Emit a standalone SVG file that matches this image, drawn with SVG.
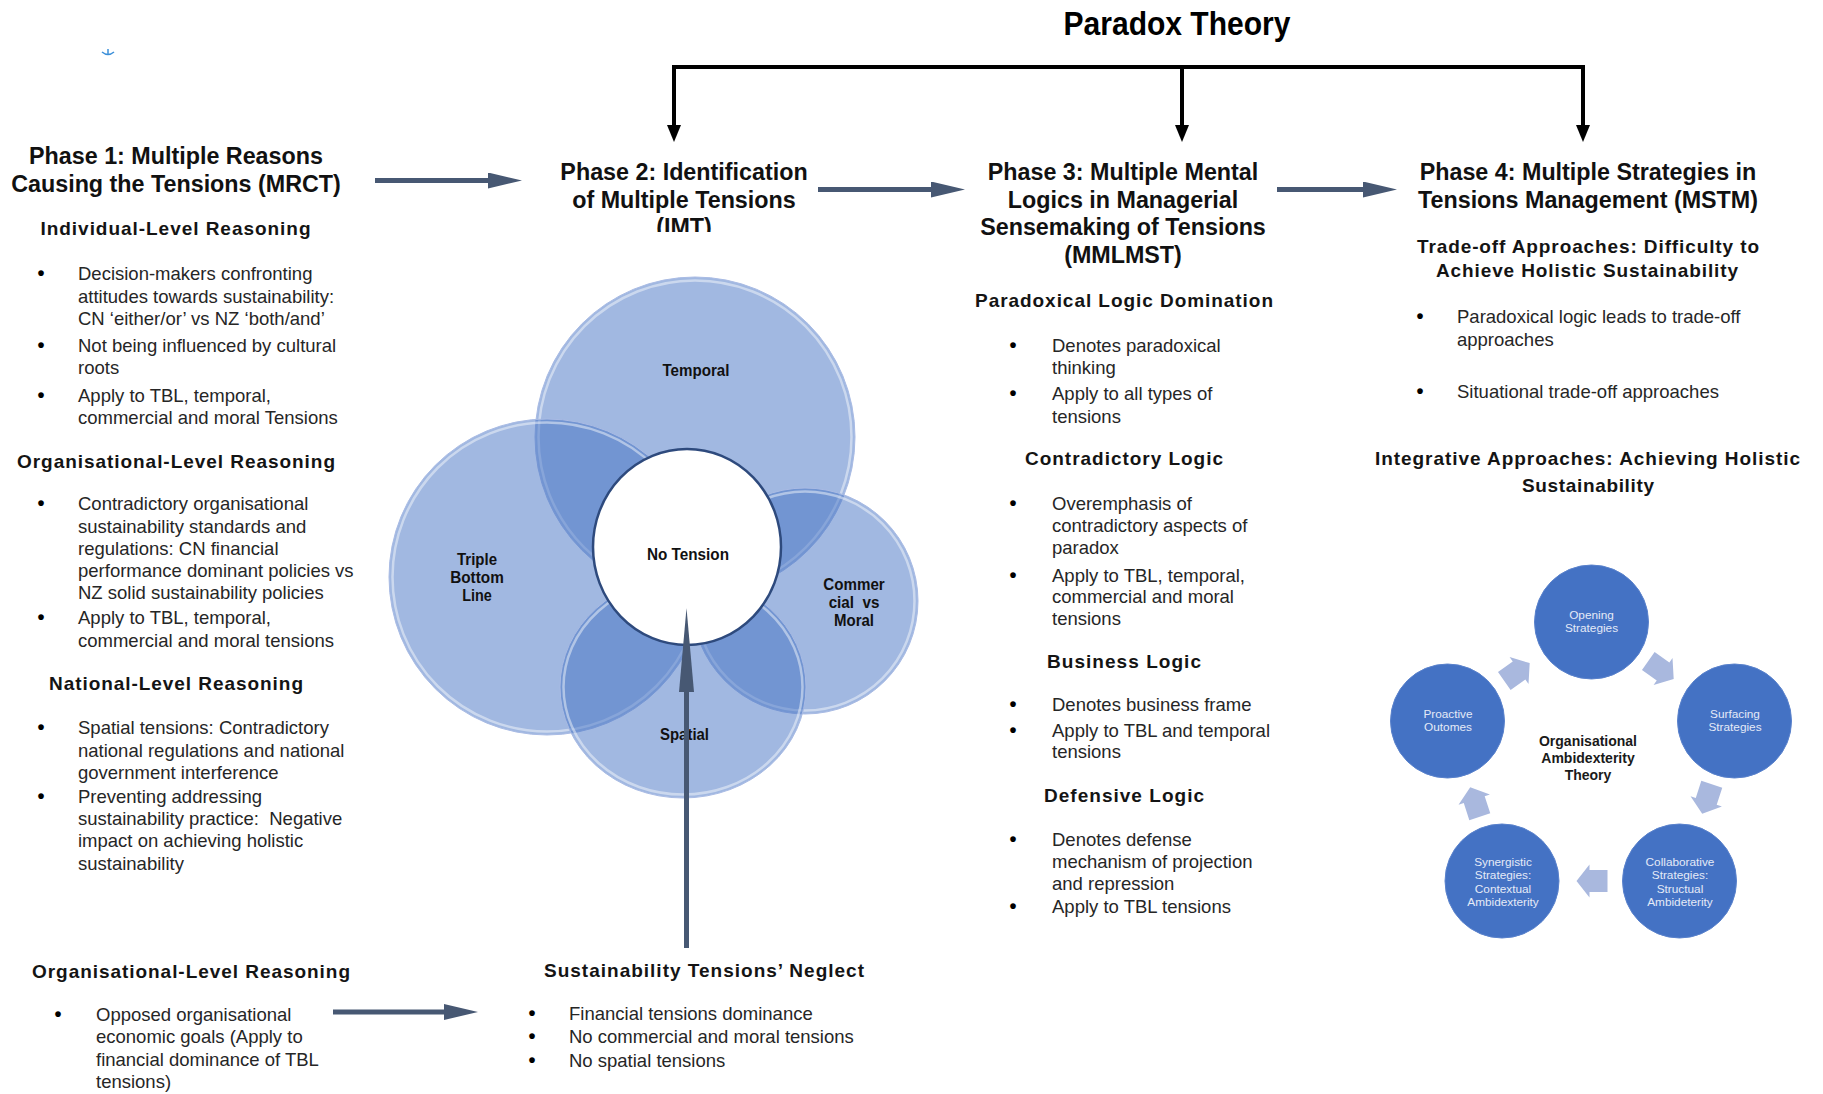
<svg xmlns="http://www.w3.org/2000/svg" width="1823" height="1094" viewBox="0 0 1823 1094">
<defs>
<style>
.ph{font-family:"Liberation Sans",Arial,sans-serif;font-weight:bold;font-size:23.3px;fill:#111;text-anchor:middle}
.tt{font-family:"Liberation Sans",Arial,sans-serif;font-weight:bold;font-size:33px;fill:#000;text-anchor:middle}
.hd{font-family:"Liberation Sans",Arial,sans-serif;font-weight:bold;font-size:19px;fill:#141414;text-anchor:middle}
.bd{font-family:"Liberation Sans",Arial,sans-serif;font-size:18.5px;fill:#262626}
.bu{font-family:"Liberation Sans",Arial,sans-serif;font-size:20px;font-weight:bold;fill:#000;text-anchor:middle}
.vl{font-family:"Liberation Sans",Arial,sans-serif;font-weight:bold;font-size:16.5px;fill:#111;text-anchor:middle}
.cy{font-family:"Liberation Sans",Arial,sans-serif;font-size:11.8px;fill:#e4eaf7;text-anchor:middle}
.ct{font-family:"Liberation Sans",Arial,sans-serif;font-weight:bold;font-size:14px;fill:#1a1a1a;text-anchor:middle}
.arr{stroke:#475873;stroke-width:5;fill:none}
.blk{stroke:#000;stroke-width:4;fill:none}
.venn{fill:#4472c4;fill-opacity:.5;stroke:#a9bbe4;stroke-width:1}
.rim{fill:none;stroke:#fff;stroke-opacity:.45;stroke-width:2.5}
.cc{fill:#4472c4;stroke:#5a82cc;stroke-width:1}
.ba{fill:#a9b8de}
</style>
<marker id="ah" markerUnits="userSpaceOnUse" viewBox="0 0 34 16" refX="0" refY="8" markerWidth="34" markerHeight="16" orient="auto">
<path d="M0,0 L34,8 L0,16 Z" fill="#475873"/>
</marker>
<marker id="ahl" markerUnits="userSpaceOnUse" viewBox="0 0 84 15" refX="0" refY="7.5" markerWidth="84" markerHeight="15" orient="auto">
<path d="M0,0 L84,7.5 L0,15 Z" fill="#475873"/>
</marker>
<marker id="ahb" markerUnits="userSpaceOnUse" viewBox="0 0 17 14" refX="0" refY="7" markerWidth="17" markerHeight="14" orient="auto">
<path d="M0,0 L17,7 L0,14 Z" fill="#000"/>
</marker>
<clipPath id="c2"><rect x="540" y="140" width="300" height="92"/></clipPath>
<path id="bar" d="M-15.5,-11 L2.5,-11 L2.5,-16.5 L15.5,0 L2.5,16.5 L2.5,11 L-15.5,11 Z"/>
</defs>
<rect width="1823" height="1094" fill="#fff"/>

<g id="mark" fill="none" stroke="#3b8fd9" stroke-width="1.5">
<path d="M102,52 Q108,57 114,52"/>
<path d="M108,49 L108,55"/>
</g>

<g id="title">
<text class="tt" x="1177" y="35" textLength="227" lengthAdjust="spacingAndGlyphs">Paradox Theory</text>
</g>

<g id="connectors">
<line class="blk" x1="672" y1="67" x2="1585" y2="67"/>
<line class="blk" x1="674" y1="67" x2="674" y2="125" marker-end="url(#ahb)"/>
<line class="blk" x1="1182" y1="67" x2="1182" y2="125" marker-end="url(#ahb)"/>
<line class="blk" x1="1583" y1="67" x2="1583" y2="125" marker-end="url(#ahb)"/>
<line class="arr" x1="375" y1="180.5" x2="488" y2="180.5" marker-end="url(#ah)"/>
<line class="arr" x1="818" y1="189.5" x2="931" y2="189.5" marker-end="url(#ah)"/>
<line class="arr" x1="1277" y1="189.5" x2="1363" y2="189.5" marker-end="url(#ah)"/>
<line class="arr" x1="333" y1="1012" x2="444" y2="1012" marker-end="url(#ah)"/>
</g>

<g id="phase1">
<text class="ph" x="176" y="164">Phase 1: Multiple Reasons</text>
<text class="ph" x="176" y="192">Causing the Tensions (MRCT)</text>
<text class="hd" x="175.5" y="235" textLength="270" lengthAdjust="spacing">Individual-Level Reasoning</text>
<text class="bu" x="41" y="280">•</text>
<text class="bd" x="78" y="280">Decision-makers confronting</text>
<text class="bd" x="78" y="302.7">attitudes towards sustainability:</text>
<text class="bd" x="78" y="325">CN ‘either/or’ vs NZ ‘both/and’</text>
<text class="bu" x="41" y="351.7">•</text>
<text class="bd" x="78" y="351.7">Not being influenced by cultural</text>
<text class="bd" x="78" y="374">roots</text>
<text class="bu" x="41" y="401.7">•</text>
<text class="bd" x="78" y="401.7">Apply to TBL, temporal,</text>
<text class="bd" x="78" y="424">commercial and moral Tensions</text>

<text class="hd" x="176" y="468" textLength="318" lengthAdjust="spacing">Organisational-Level Reasoning</text>
<text class="bu" x="41" y="510">•</text>
<text class="bd" x="78" y="510">Contradictory organisational</text>
<text class="bd" x="78" y="532.7">sustainability standards and</text>
<text class="bd" x="78" y="554.5">regulations: CN financial</text>
<text class="bd" x="78" y="576.7">performance dominant policies vs</text>
<text class="bd" x="78" y="599">NZ solid sustainability policies</text>
<text class="bu" x="41" y="624">•</text>
<text class="bd" x="78" y="624">Apply to TBL, temporal,</text>
<text class="bd" x="78" y="646.7">commercial and moral tensions</text>

<text class="hd" x="176" y="690" textLength="254" lengthAdjust="spacing">National-Level Reasoning</text>
<text class="bu" x="41" y="734">•</text>
<text class="bd" x="78" y="734">Spatial tensions: Contradictory</text>
<text class="bd" x="78" y="756.7">national regulations and national</text>
<text class="bd" x="78" y="779">government interference</text>
<text class="bu" x="41" y="802.7">•</text>
<text class="bd" x="78" y="802.7">Preventing addressing</text>
<text class="bd" x="78" y="825" xml:space="preserve">sustainability practice:  Negative</text>
<text class="bd" x="78" y="847.3">impact on achieving holistic</text>
<text class="bd" x="78" y="870">sustainability</text>
</g>

<g id="org-bottom">
<text class="hd" x="191" y="978" textLength="318" lengthAdjust="spacing">Organisational-Level Reasoning</text>
<text class="bu" x="58" y="1021">•</text>
<text class="bd" x="96" y="1021">Opposed organisational</text>
<text class="bd" x="96" y="1043">economic goals (Apply to</text>
<text class="bd" x="96" y="1065.5">financial dominance of TBL</text>
<text class="bd" x="96" y="1088">tensions)</text>
</g>

<g id="phase2">
<g clip-path="url(#c2)">
<text class="ph" x="684" y="180">Phase 2: Identification</text>
<text class="ph" x="684" y="207.7">of Multiple Tensions</text>
<text class="ph" x="684" y="235.3">(IMT)</text>
</g>
</g>

<g id="venn">
<circle class="venn" cx="695" cy="437" r="160"/>
<circle class="rim" cx="695" cy="437" r="156.5"/>
<circle class="venn" cx="547" cy="577" r="158"/>
<circle class="rim" cx="547" cy="577" r="154.5"/>
<circle class="venn" cx="805" cy="601" r="113"/>
<circle class="rim" cx="805" cy="601" r="109.5"/>
<ellipse class="venn" cx="683" cy="687" rx="123" ry="111"/>
<ellipse class="rim" cx="683" cy="687" rx="119.5" ry="107.5"/>
<ellipse cx="687" cy="547" rx="94" ry="98" fill="#fff" stroke="#2e4a7d" stroke-width="2.5"/>
<text class="vl" x="696" y="376" textLength="67" lengthAdjust="spacingAndGlyphs">Temporal</text>
<text class="vl" x="477" y="564.5" textLength="40" lengthAdjust="spacingAndGlyphs">Triple</text>
<text class="vl" x="477" y="583" textLength="53.6" lengthAdjust="spacingAndGlyphs">Bottom</text>
<text class="vl" x="477" y="601" textLength="29.6" lengthAdjust="spacingAndGlyphs">Line</text>
<text class="vl" x="854" y="589.5" textLength="61.4" lengthAdjust="spacingAndGlyphs">Commer</text>
<text class="vl" x="854" y="608" textLength="50.7" lengthAdjust="spacingAndGlyphs" xml:space="preserve">cial  vs</text>
<text class="vl" x="854" y="626" textLength="40" lengthAdjust="spacingAndGlyphs">Moral</text>
<text class="vl" x="684.5" y="740" textLength="49" lengthAdjust="spacingAndGlyphs">Spatial</text>
<text class="vl" x="688" y="560" textLength="82" lengthAdjust="spacingAndGlyphs">No Tension</text>
</g>

<g id="neglect-arrow">
<line class="arr" x1="686.5" y1="948" x2="686.5" y2="692" stroke-width="4.5" marker-end="url(#ahl)"/>
</g>

<g id="neglect">
<text class="hd" x="704" y="977" textLength="320" lengthAdjust="spacing">Sustainability Tensions’ Neglect</text>
<text class="bu" x="532" y="1020">•</text>
<text class="bd" x="569" y="1020">Financial tensions dominance</text>
<text class="bu" x="532" y="1043">•</text>
<text class="bd" x="569" y="1043">No commercial and moral tensions</text>
<text class="bu" x="532" y="1066.5">•</text>
<text class="bd" x="569" y="1066.5">No spatial tensions</text>
</g>

<g id="phase3">
<text class="ph" x="1123" y="180">Phase 3: Multiple Mental</text>
<text class="ph" x="1123" y="207.7">Logics in Managerial</text>
<text class="ph" x="1123" y="235.3">Sensemaking of Tensions</text>
<text class="ph" x="1123" y="263">(MMLMST)</text>
<text class="hd" x="1124" y="306.7" textLength="298" lengthAdjust="spacing">Paradoxical Logic Domination</text>
<text class="bu" x="1013" y="351.7">•</text>
<text class="bd" x="1052" y="351.7">Denotes paradoxical</text>
<text class="bd" x="1052" y="374">thinking</text>
<text class="bu" x="1013" y="400">•</text>
<text class="bd" x="1052" y="400">Apply to all types of</text>
<text class="bd" x="1052" y="422.7">tensions</text>
<text class="hd" x="1124" y="465" textLength="198" lengthAdjust="spacing">Contradictory Logic</text>
<text class="bu" x="1013" y="510">•</text>
<text class="bd" x="1052" y="510">Overemphasis of</text>
<text class="bd" x="1052" y="532.3">contradictory aspects of</text>
<text class="bd" x="1052" y="554.3">paradox</text>
<text class="bu" x="1013" y="581.7">•</text>
<text class="bd" x="1052" y="581.7">Apply to TBL, temporal,</text>
<text class="bd" x="1052" y="603.3">commercial and moral</text>
<text class="bd" x="1052" y="625">tensions</text>
<text class="hd" x="1124" y="667.7" textLength="154" lengthAdjust="spacing">Business Logic</text>
<text class="bu" x="1013" y="710.7">•</text>
<text class="bd" x="1052" y="710.7">Denotes business frame</text>
<text class="bu" x="1013" y="736.7">•</text>
<text class="bd" x="1052" y="736.7">Apply to TBL and temporal</text>
<text class="bd" x="1052" y="758.3">tensions</text>
<text class="hd" x="1124" y="801.7" textLength="160" lengthAdjust="spacing">Defensive Logic</text>
<text class="bu" x="1013" y="845.7">•</text>
<text class="bd" x="1052" y="845.7">Denotes defense</text>
<text class="bd" x="1052" y="867.7">mechanism of projection</text>
<text class="bd" x="1052" y="890">and repression</text>
<text class="bu" x="1013" y="913.3">•</text>
<text class="bd" x="1052" y="913.3">Apply to TBL tensions</text>
</g>

<g id="phase4">
<text class="ph" x="1588" y="180">Phase 4: Multiple Strategies in</text>
<text class="ph" x="1588" y="208">Tensions Management (MSTM)</text>
<text class="hd" x="1588" y="253.3" textLength="342" lengthAdjust="spacing">Trade-off Approaches: Difficulty to</text>
<text class="hd" x="1587" y="276.7" textLength="302" lengthAdjust="spacing">Achieve Holistic Sustainability</text>
<text class="bu" x="1420" y="323.3">•</text>
<text class="bd" x="1457" y="323.3">Paradoxical logic leads to trade-off</text>
<text class="bd" x="1457" y="346">approaches</text>
<text class="bu" x="1420" y="397.7">•</text>
<text class="bd" x="1457" y="397.7">Situational trade-off approaches</text>
<text class="hd" x="1587.5" y="465" textLength="425" lengthAdjust="spacing">Integrative Approaches: Achieving Holistic</text>
<text class="hd" x="1588" y="491.7" textLength="132" lengthAdjust="spacing">Sustainability</text>
</g>

<g id="cycle">
<g id="cycle-arrows">
<use href="#bar" class="ba" transform="translate(1661,670) rotate(35)"/>
<use href="#bar" class="ba" transform="translate(1707,799) rotate(108)"/>
<use href="#bar" class="ba" transform="translate(1592,881) rotate(180)"/>
<use href="#bar" class="ba" transform="translate(1475,802) rotate(252)"/>
<use href="#bar" class="ba" transform="translate(1517,672) rotate(-35)"/>
</g>
<g id="opening">
<circle class="cc" cx="1591.5" cy="622" r="57"/>
<text class="cy" x="1591.5" y="619">Opening</text>
<text class="cy" x="1591.5" y="632">Strategies</text>
</g>
<g id="surfacing">
<circle class="cc" cx="1734.5" cy="721" r="57"/>
<text class="cy" x="1735" y="717.5">Surfacing</text>
<text class="cy" x="1735" y="731">Strategies</text>
</g>
<g id="collaborative">
<circle class="cc" cx="1679.5" cy="881" r="57"/>
<text class="cy" x="1680" y="866">Collaborative</text>
<text class="cy" x="1680" y="879.3">Strategies:</text>
<text class="cy" x="1680" y="892.6">Structual</text>
<text class="cy" x="1680" y="906">Ambideterity</text>
</g>
<g id="synergistic">
<circle class="cc" cx="1502" cy="881" r="57"/>
<text class="cy" x="1503" y="866">Synergistic</text>
<text class="cy" x="1503" y="879.3">Strategies:</text>
<text class="cy" x="1503" y="892.6">Contextual</text>
<text class="cy" x="1503" y="906">Ambidexterity</text>
</g>
<g id="proactive">
<circle class="cc" cx="1447.5" cy="721" r="57"/>
<text class="cy" x="1448" y="717.5">Proactive</text>
<text class="cy" x="1448" y="731">Outomes</text>
</g>
<g id="oat">
<text class="ct" x="1588" y="746">Organisational</text>
<text class="ct" x="1588" y="763">Ambidexterity</text>
<text class="ct" x="1588" y="780">Theory</text>
</g>
</g>
</svg>
